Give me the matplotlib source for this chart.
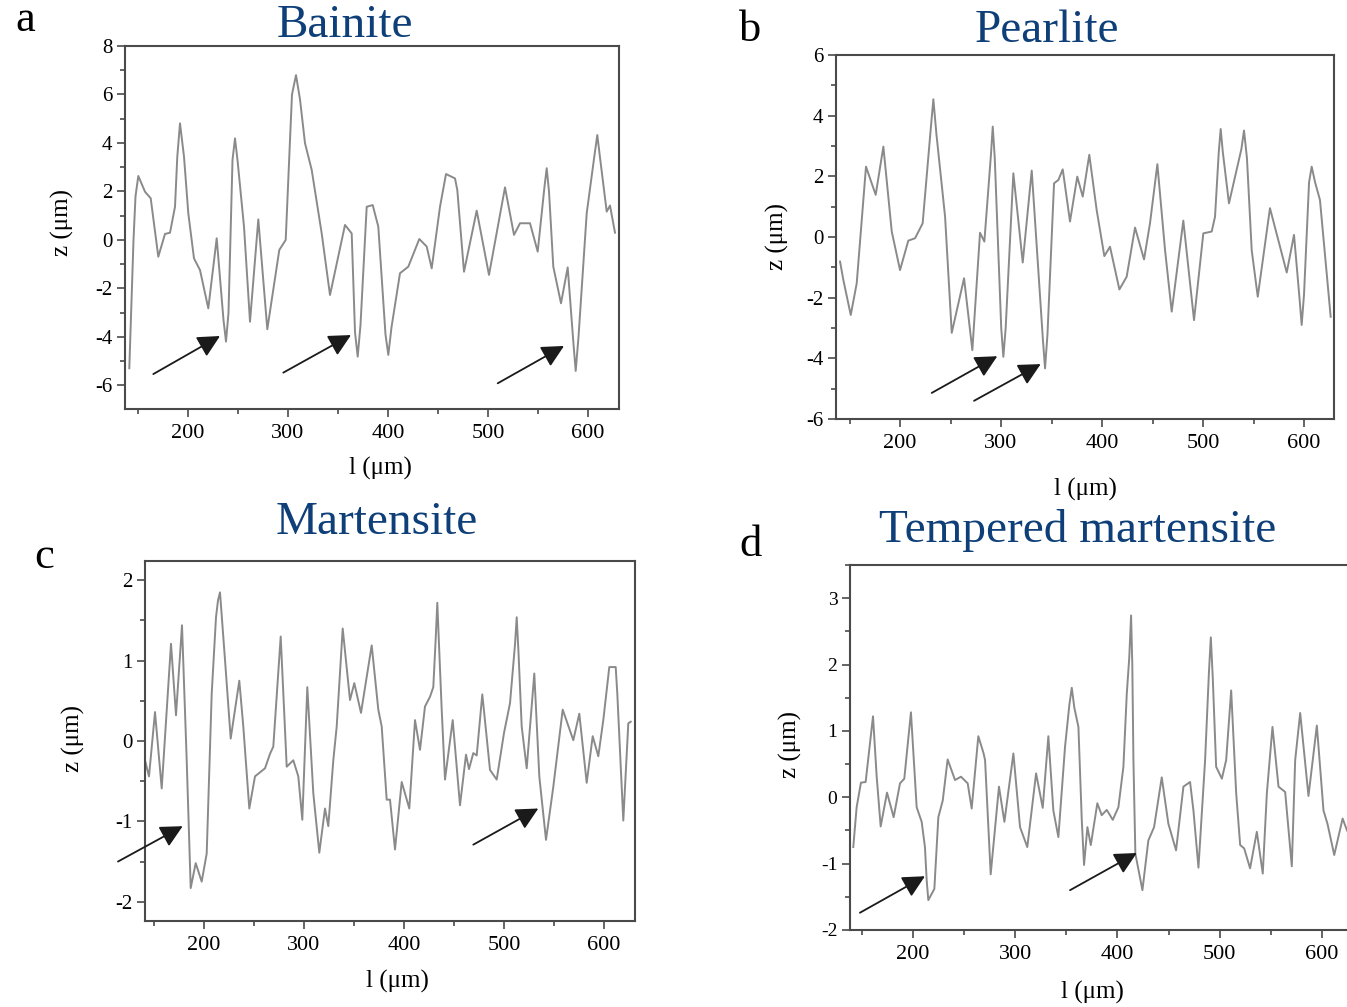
import matplotlib
matplotlib.use("Agg")
import matplotlib.pyplot as plt
from matplotlib.ticker import MultipleLocator

plt.rcParams['font.family'] = ['Liberation Serif', 'DejaVu Serif']
plt.rcParams['axes.unicode_minus'] = False

W, H = 1347, 1007

# ---------------- data ----------------
titles = ["Bainite", "Pearlite", "Martensite", "Tempered martensite"]
letters = ["a", "b", "c", "d"]

bainite_l = [141.3, 145.5, 147.5, 150.3, 157, 162.7, 170.3, 177, 182, 187, 189.3, 192, 196, 200.3, 206, 212,
             220.3, 228.7, 235.5, 238, 240.5, 244.5, 247, 249.5, 256, 262, 270.3, 279.3, 291.3, 297.7, 302,
             304, 308, 312, 317, 323.7, 333.7, 342, 357, 363.7, 367, 369.7, 372.5, 378.7, 384.7, 390.3,
             397.5, 400.3, 403.5, 412, 420.3, 431.3, 438.7, 443.7, 452, 458, 467, 469.3, 476, 488.7,
             501, 517, 526, 532, 542, 549.7, 556.5, 558.7, 561, 565.3, 573, 579.7, 585.5, 587.7, 590.5,
             598.7, 606.5, 609.3, 612, 618.7, 622, 627]
bainite_z = [-5.29, 0.0, 1.8, 2.64, 1.99, 1.72, -0.69, 0.25, 0.30, 1.37, 3.44, 4.81, 3.44, 1.10, -0.76, -1.24,
             -2.82, 0.07, -3.3, -4.19, -3.0, 3.3, 4.19, 3.3, 0.55, -3.37, 0.85, -3.68, -0.41, 0.0, 4.12,
             6.0, 6.80, 5.8, 3.99, 2.89, 0.27, -2.27, 0.62, 0.27, -3.8, -4.81, -3.5, 1.37, 1.44, 0.55,
             -3.9, -4.74, -3.6, -1.37, -1.10, 0.04, -0.27, -1.17, 1.37, 2.72, 2.54, 2.06, -1.31, 1.21,
             -1.44, 2.17, 0.21, 0.69, 0.69, -0.48, 2.2, 2.96, 2.0, -1.10, -2.61, -1.13, -4.3, -5.40, -4.0,
             1.10, 3.5, 4.33, 3.4, 1.17, 1.42, 0.30]

pearlite_l = [140.6, 143.9, 151.2, 157.1, 166.3, 175.9, 183.5, 191.8, 200, 208.2, 214.9, 222.4, 230.5, 233, 236,
              244.6, 251.2, 263.4, 271.6, 279.2, 283.5, 290, 291.8, 293.8, 300.2, 302.3, 304.6, 312.2, 321.5,
              330.4, 341.5, 343.6, 346, 352.5, 356.8, 361.1, 368.3, 375.5, 380.9, 387.4, 394.7, 402.3, 407.9,
              417.2, 424.4, 432.7, 441.6, 447.5, 454.8, 462.4, 469, 480.5, 491.1, 500.3, 508.6, 511.9, 515.6,
              517.5, 519.6, 525.7, 538, 540.6, 543.5, 548.2, 554.2, 566.3, 582.9, 590.1, 595.5, 597.7, 600,
              605, 607.6, 611, 615.8, 626.4]
pearlite_z = [-0.81, -1.42, -2.57, -1.53, 2.32, 1.39, 2.98, 0.18, -1.09, -0.12, -0.04, 0.45, 3.6, 4.54, 3.4,
              0.67, -3.16, -1.36, -3.73, 0.14, -0.15, 2.7, 3.64, 2.6, -3.0, -3.95, -3.0, 2.10, -0.84,
              2.19, -3.4, -4.33, -3.2, 1.77, 1.88, 2.23, 0.51, 1.99, 1.33, 2.71, 0.89, -0.63, -0.32,
              -1.73, -1.31, 0.31, -0.74, 0.45, 2.40, -0.43, -2.46, 0.54, -2.74, 0.12, 0.18, 0.67, 2.8,
              3.56, 2.8, 1.11, 2.9, 3.51, 2.6, -0.43, -1.97, 0.95, -1.17, 0.07, -2.0, -2.90, -1.9,
              1.8, 2.32, 1.8, 1.22, -2.63]

martensite_l = [140, 145, 151, 157.7, 167, 172, 178, 182.7, 186.7, 191.7, 197.7, 202.7, 207.7, 212, 214, 216, 221,
                226.7, 235.3, 239.3, 245.3, 251, 261, 266, 269.3, 276.7, 282.7, 289.3, 294.3, 298.3, 303.3,
                309.3, 315.3, 321, 324.3, 329.3, 332.7, 338.7, 346, 350.3, 357, 367.7, 374.3, 377.7, 382.7,
                386, 391, 397.7, 405.3, 411, 416, 421, 426, 429.3, 431.8, 433.3, 435, 437.7, 441, 448.7, 456,
                462, 465, 469.3, 472.7, 478.3, 486, 492.7, 500, 506, 511, 512.7, 514.5, 517.7, 522.7, 530.3,
                535.3, 542, 549.3, 558.7, 569.3, 575.3, 582.7, 588.7, 594.3, 599.3, 605.3, 611.7, 613.3,
                619.3, 624.3, 626.7]
martensite_z = [-0.19, -0.44, 0.36, -0.59, 1.21, 0.32, 1.44, -0.24, -1.83, -1.52, -1.75, -1.40, 0.59, 1.54, 1.75,
                1.85, 1.01, 0.03, 0.75, 0.18, -0.84, -0.44, -0.34, -0.16, -0.07, 1.30, -0.32, -0.24, -0.44,
                -0.98, 0.67, -0.65, -1.39, -0.84, -1.06, -0.24, 0.18, 1.40, 0.51, 0.72, 0.35, 1.19, 0.39,
                0.18, -0.73, -0.73, -1.35, -0.51, -0.84, 0.26, -0.11, 0.43, 0.55, 0.67, 1.3, 1.72, 1.2, 0.39,
                -0.48, 0.26, -0.80, -0.17, -0.35, -0.15, -0.18, 0.58, -0.36, -0.48, 0.10, 0.47, 1.2, 1.54,
                1.1, 0.18, -0.34, 0.84, -0.44, -1.23, -0.57, 0.39, 0.01, 0.34, -0.52, 0.06, -0.19, 0.26,
                0.92, 0.92, 0.59, -0.99, 0.22, 0.24]

tempered_l = [141.6, 144.9, 149.1, 153.7, 160.9, 164.5, 168.4, 174.6, 181.1, 187.3, 191.5, 198, 203.6, 208.5,
              211.7, 213.4, 215, 220.9, 224.8, 229.1, 233.9, 241.1, 246.9, 253.5, 257.4, 263.9, 268.9, 270.5,
              276, 284.1, 289.4, 298.2, 304.7, 311.8, 320.4, 326.9, 332.4, 337.3, 342.2, 348.7, 353, 355.3,
              357.8, 361.8, 365.1, 367.3, 370.6, 373.9, 380.3, 384.6, 389.5, 395.4, 400.9, 405.8, 409.1,
              411.5, 413.3, 414.5, 415.6, 417.5, 424.4, 430.2, 435.8, 443.3, 449.8, 457.3, 464.5, 471, 474.3,
              479.2, 485.7, 489.5, 491.3, 493.2, 496.5, 502.1, 506.3, 511.2, 516.1, 520, 523.9, 529.7, 536.3,
              542.1, 546.1, 551.6, 557.5, 564, 570.5, 573.8, 578.7, 586.8, 595, 601.5, 605.4, 612, 620.2, 624.5]
tempered_z = [-0.75, -0.15, 0.22, 0.23, 1.22, 0.31, -0.44, 0.07, -0.30, 0.21, 0.28, 1.28, -0.15, -0.37,
              -0.75, -1.25, -1.55, -1.38, -0.30, -0.05, 0.57, 0.26, 0.31, 0.21, -0.17, 0.92, 0.67, 0.56,
              -1.16, 0.16, -0.37, 0.66, -0.45, -0.75, 0.36, -0.16, 0.92, -0.20, -0.60, 0.76, 1.4, 1.65,
              1.35, 1.06, -0.35, -1.02, -0.45, -0.72, -0.09, -0.27, -0.19, -0.34, -0.15, 0.46, 1.56,
              2.1, 2.74, 2.0, 0.56, -0.85, -1.40, -0.65, -0.45, 0.30, -0.40, -0.80, 0.16, 0.23, -0.20,
              -1.06, 0.56, 1.9, 2.41, 1.8, 0.46, 0.28, 0.56, 1.61, 0.06, -0.72, -0.77, -1.07, -0.52,
              -1.15, 0.06, 1.06, 0.16, 0.08, -1.04, 0.56, 1.27, 0.02, 1.08, -0.20, -0.40, -0.87, -0.32, -0.50]

# arrows: (tail_l, tail_z, head_l, head_z)
bainite_arrows = [(165.3, -5.53, 232, -3.96), (295.3, -5.47, 363, -3.92), (509.7, -5.91, 576, -4.37)]
pearlite_arrows = [(231.4, -5.14, 296.3, -3.93), (273.3, -5.40, 339.3, -4.19)]
martensite_arrows = [(114, -1.50, 178.7, -1.06), (469.3, -1.29, 534.3, -0.84)]
tempered_arrows = [(148.1, -1.74, 211.7, -1.19), (353.6, -1.40, 418.9, -0.84)]

x_ticks = [200, 300, 400, 500, 600]
bainite_yticks = [-6, -4, -2, 0, 2, 4, 6, 8]
pearlite_yticks = [-6, -4, -2, 0, 2, 4, 6]
martensite_yticks = [-2, -1, 0, 1, 2]
tempered_yticks = [-2, -1, 0, 1, 2, 3]

# ---------------- layout ----------------
panels = [
    dict(l=bainite_l, z=bainite_z, arrows=bainite_arrows, yt=bainite_yticks,
         box=(125, 46, 619, 409), xlim=(137, 631), ylim=(-6.97, 8.0), ymin=1.0,
         title_xy=(345, 26), letter_xy=(25, 20), zlab=(62, 222), llab=(380, 468), yfs=15),
    dict(l=pearlite_l, z=pearlite_z, arrows=pearlite_arrows, yt=pearlite_yticks,
         box=(836, 55, 1334, 419), xlim=(136.6, 629.7), ylim=(-6.0, 6.0), ymin=1.0,
         title_xy=(1047, 31), letter_xy=(750, 30), zlab=(777, 237), llab=(1085, 489), yfs=15),
    dict(l=martensite_l, z=martensite_z, arrows=martensite_arrows, yt=martensite_yticks,
         box=(145, 561, 635, 921), xlim=(141, 631), ylim=(-2.24, 2.24), ymin=0.5,
         title_xy=(377, 523), letter_xy=(44, 557), zlab=(73, 738), llab=(397, 981), yfs=15),
    dict(l=tempered_l, z=tempered_z, arrows=tempered_arrows, yt=tempered_yticks,
         box=(850, 565, 1360, 930), xlim=(138.4, 637.2), ylim=(-2.0, 3.5), ymin=0.5,
         title_xy=(1078, 531), letter_xy=(751, 545), zlab=(790, 745), llab=(1092, 992), yfs=14),
]

fig = plt.figure(figsize=(W / 100, H / 100), dpi=100)
fig.patch.set_facecolor('white')

def fx(px):
    return px / W

def fy(py):
    return 1 - py / H

spine_col = '#4a4a4a'
title_col = '#0e3f78'

for i, p in enumerate(panels):
    x0, y0, x1, y1 = p['box']
    ax = fig.add_axes([fx(x0), fy(y1), (x1 - x0) / W, (y1 - y0) / H])
    ax.plot(p['l'], p['z'], color='#8a8a8a', lw=1.4, solid_joinstyle='round')
    ax.set_xlim(*p['xlim'])
    ax.set_ylim(*p['ylim'])
    ax.set_xticks(x_ticks)
    ax.set_yticks(p['yt'])
    ax.xaxis.set_minor_locator(MultipleLocator(50))
    ax.yaxis.set_minor_locator(MultipleLocator(p['ymin']))
    ax.tick_params(which='both', direction='out', top=False, right=False, color=spine_col, width=1.2)
    ax.tick_params(which='major', length=6)
    ax.tick_params(which='minor', length=3.5)
    ax.tick_params(axis='x', labelsize=16, pad=5)
    ax.tick_params(axis='y', labelsize=p['yfs'], pad=3)
    for s in ax.spines.values():
        s.set_color(spine_col)
        s.set_linewidth(1.5)
    for (tl, tz, hl, hz) in p['arrows']:
        ax.annotate('', xy=(hl, hz), xytext=(tl, tz), annotation_clip=False,
                    arrowprops=dict(arrowstyle='-|>,head_length=0.75,head_width=0.38',
                                    mutation_scale=18, lw=1.3, color='#1a1a1a',
                                    shrinkA=0, shrinkB=0))
    fig.text(fx(p['title_xy'][0]), fy(p['title_xy'][1]), titles[i], color=title_col,
             fontsize=34, ha='center', va='center')
    fig.text(fx(p['letter_xy'][0]), fy(p['letter_xy'][1]), letters[i], color='black',
             fontsize=32, ha='center', va='center')
    fig.text(fx(p['zlab'][0]), fy(p['zlab'][1]), 'z (μm)', rotation=90,
             fontsize=18, ha='center', va='center')
    fig.text(fx(p['llab'][0]), fy(p['llab'][1]), 'l (μm)',
             fontsize=18, ha='center', va='center')

fig.savefig('out.png', dpi=100, facecolor='white')
